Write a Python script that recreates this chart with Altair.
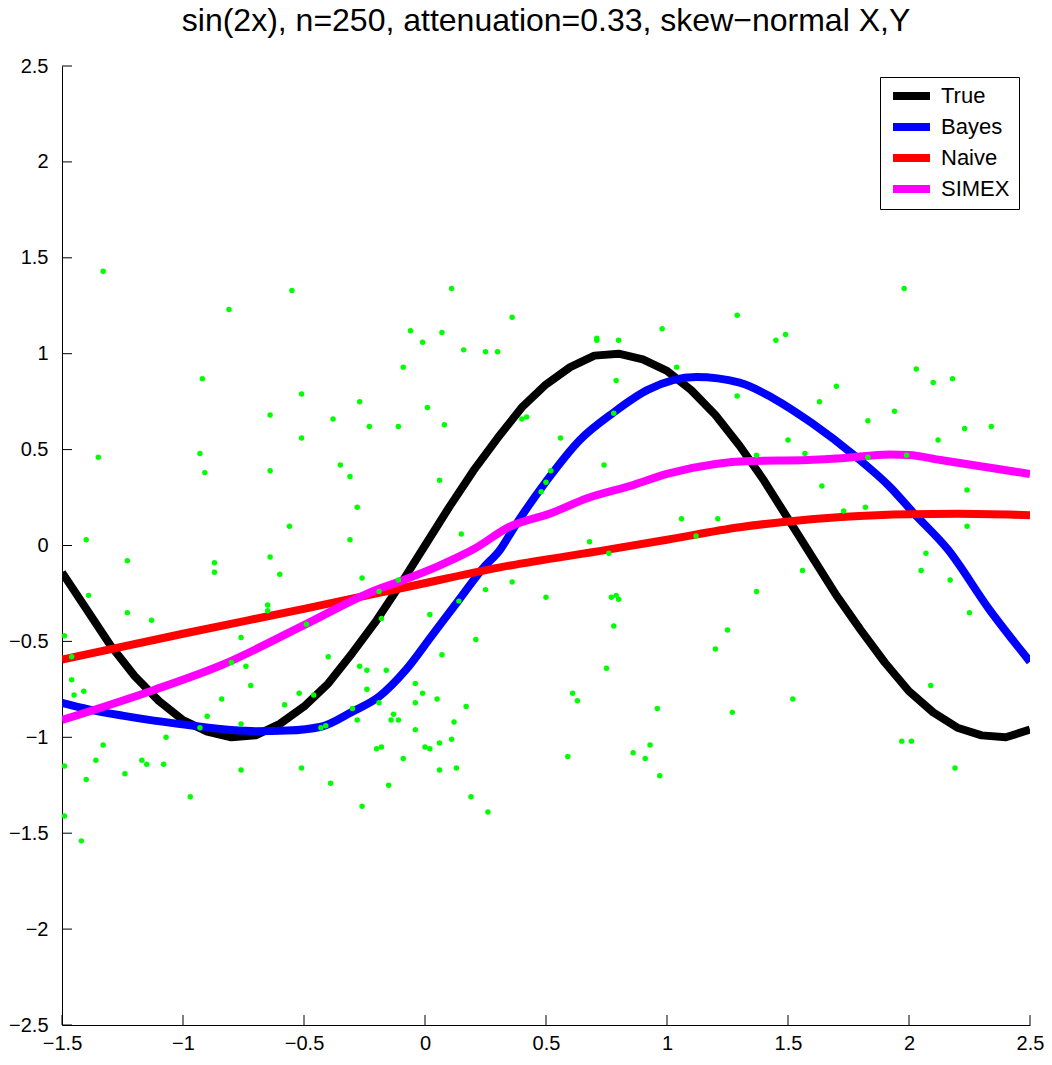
import altair as alt
import pandas as pd

TITLE = "sin(2x), n=250, attenuation=0.33, skew\u2212normal X,Y"
SERIES = ["True", "Bayes", "Naive", "SIMEX"]
COLORS = ["#000000", "#0000ff", "#ff0000", "#ff00ff"]

TRUE_X = [-1.5, -1.4, -1.3, -1.2, -1.1, -1.0, -0.9, -0.8, -0.7, -0.6, -0.5, -0.4, -0.3, -0.2, -0.1,
          0.0, 0.1, 0.2, 0.3, 0.4, 0.5, 0.6, 0.7, 0.8, 0.9, 1.0, 1.1, 1.2, 1.3, 1.4, 1.5,
          1.6, 1.7, 1.8, 1.9, 2.0, 2.1, 2.2, 2.3, 2.4, 2.5]
TRUE_Y = [-0.14, -0.33, -0.52, -0.68, -0.81, -0.91, -0.97, -1.00, -0.99, -0.93, -0.84, -0.72, -0.56, -0.39, -0.20,
          0.00, 0.20, 0.39, 0.56, 0.72, 0.84, 0.93, 0.99, 1.00, 0.97, 0.91, 0.81, 0.68, 0.52, 0.34, 0.14,
          -0.06, -0.26, -0.44, -0.61, -0.76, -0.87, -0.95, -0.99, -1.00, -0.96]

BAYES_X = [-1.5, -1.39, -1.25, -1.12, -0.98, -0.8, -0.7, -0.57, -0.43, -0.3, -0.19, -0.08, 0.03, 0.14,
           0.24, 0.31, 0.37, 0.5, 0.64, 0.78, 0.92, 1.12, 1.3, 1.44, 1.6, 1.78, 1.92, 2.02, 2.16, 2.33, 2.5]
BAYES_Y = [-0.82, -0.854, -0.887, -0.913, -0.936, -0.962, -0.968, -0.965, -0.945, -0.866, -0.788, -0.65, -0.467,
           -0.284, -0.118, -0.023, 0.098, 0.333, 0.55, 0.694, 0.811, 0.878, 0.849, 0.767, 0.637, 0.463, 0.307,
           0.168, -0.02, -0.33, -0.606]

NAIVE_X = [-1.5, -1.0, -0.5, -0.08, 0.31, 0.75, 1.0, 1.3, 1.5, 1.72, 2.0, 2.2, 2.5]
NAIVE_Y = [-0.595, -0.46, -0.33, -0.218, -0.114, -0.023, 0.03, 0.095, 0.125, 0.148, 0.163, 0.165, 0.158]

SIMEX_X = [-1.5, -1.12, -0.84, -0.5, -0.22, -0.08, 0.05, 0.2, 0.35, 0.52, 0.67, 0.86, 1.0, 1.2, 1.34,
           1.58, 1.72, 1.92, 2.0, 2.13, 2.5]
SIMEX_Y = [-0.91, -0.753, -0.623, -0.415, -0.241, -0.176, -0.11, -0.02, 0.098, 0.168, 0.246, 0.315, 0.373,
           0.425, 0.44, 0.446, 0.455, 0.475, 0.472, 0.446, 0.373]

PTS_X = [-1.33, -0.55, -0.81, -0.09, -0.92, -0.51, -0.27, -0.64, -0.38, -0.23, -0.11, -0.51, -1.35, -0.93,
         -0.91, -0.64, -0.35, -0.31, -0.28, -0.56, -1.40, -0.31,
         -1.23, -0.87, -0.87, -0.64, -0.60, -0.26, -0.19, -0.11, -1.39, -1.23, -1.13, -0.65, -0.65, -1.49,
         -1.46, -0.76, -0.18, -0.49, -0.80, -0.74, -1.46, -1.45, -1.41, -0.72, -0.84, -0.40, -0.27, -0.24,
         -0.16, -0.24, -0.52, -0.46, -0.58, -0.90, -0.93, -0.76, -0.30, -0.19, -0.28, -0.13, -0.14, -0.11,
         -0.43, -0.41, -1.07, -1.33, -1.36, -1.17, -1.15, -1.08, -1.49, -1.24, -1.40, -0.76, -0.51, -0.20,
         -0.18, -0.09, -0.39, -0.15, -0.97, -0.26, -1.49, -1.42,
         0.11, 0.36, 1.29, -0.06, 0.07, -0.01, 0.16, 0.25, 0.30, 0.71, 0.71, 0.80, 0.98, 1.04, 0.79, 1.29,
         0.01, 0.08, 0.40, 0.42, 0.78, 0.56, 0.74, 0.52, 0.50, 0.48, 0.06, 1.06, 1.21, 0.15, 1.12, 0.68,
         0.76, 0.36, 0.25, 0.50, 0.77, 0.79, 0.80, 0.14, 0.02, 0.78, 1.25, 1.20, 0.21, 0.07, 0.75, -0.04,
         -0.01, -0.04, 0.05, 0.17, 0.61, 0.63, 0.96, 1.27, -0.04, 0.12, 0.11, 0.00, 0.02, 0.06, 0.59, 0.86,
         0.93, 0.91, 0.97, 0.06, 0.13, 0.19, 0.26,
         1.98, 1.45, 1.49, 2.03, 2.10, 2.18, 1.70, 1.63, 1.94, 1.83, 2.23, 2.34, 1.50, 2.12, 1.37, 1.57,
         1.83, 1.99, 1.64, 2.24, 1.73, 1.82, 2.24, 2.07,
         1.56, 2.05, 2.17, 1.37, 2.25, 2.09, 1.52, 1.97, 2.01, 2.19]
PTS_Y = [1.43, 1.33, 1.23, 0.93, 0.87, 0.79, 0.75, 0.68, 0.66, 0.62, 0.62, 0.56, 0.46, 0.48,
         0.38, 0.39, 0.42, 0.36, 0.20, 0.10, 0.03, 0.03,
         -0.08, -0.09, -0.14, -0.06, -0.15, -0.17, -0.24, -0.18, -0.26, -0.35, -0.39, -0.31, -0.34, -0.47,
         -0.58, -0.48, -0.38, -0.41, -0.61, -0.63, -0.70, -0.78, -0.76, -0.73, -0.80, -0.58, -0.63, -0.65,
         -0.65, -0.75, -0.77, -0.78, -0.83, -0.89, -0.95, -0.93, -0.85, -0.82, -0.91, -0.88, -0.91, -0.91,
         -0.95, -0.94, -1.00, -1.04, -1.12, -1.12, -1.14, -1.14, -1.15, -1.19, -1.22, -1.17, -1.16, -1.06,
         -1.05, -1.11, -1.24, -1.25, -1.31, -1.36, -1.41, -1.54,
         1.34, 1.19, 1.20, 1.12, 1.11, 1.06, 1.02, 1.01, 1.01, 1.08, 1.07, 1.07, 1.13, 0.93, 0.86, 0.78,
         0.72, 0.63, 0.66, 0.67, 0.69, 0.56, 0.42, 0.39, 0.33, 0.28, 0.34, 0.14, 0.14, 0.06, 0.05, 0.02,
         -0.04, -0.19, -0.23, -0.27, -0.27, -0.26, -0.28, -0.29, -0.36, -0.42, -0.44, -0.54, -0.49, -0.57,
         -0.64, -0.72, -0.77, -0.82, -0.80, -0.84, -0.77, -0.81, -0.85, -0.87, -0.96, -0.92, -1.01, -1.05,
         -1.06, -1.03, -1.10, -1.08, -1.04, -1.11, -1.20, -1.17, -1.16, -1.31, -1.39,
         1.34, 1.07, 1.10, 0.92, 0.85, 0.87, 0.83, 0.75, 0.70, 0.65, 0.61, 0.62, 0.55, 0.55, 0.47, 0.48,
         0.46, 0.47, 0.31, 0.29, 0.18, 0.20, 0.10, -0.04,
         -0.13, -0.13, -0.18, -0.24, -0.35, -0.73, -0.80, -1.02, -1.02, -1.16]

X_TICKS = [-1.5, -1.0, -0.5, 0.0, 0.5, 1.0, 1.5, 2.0, 2.5]
Y_TICKS = [-2.5, -2.0, -1.5, -1.0, -0.5, 0.0, 0.5, 1.0, 1.5, 2.0, 2.5]

W, H = 968, 959
FONT = "Liberation Sans"

xs = alt.Scale(domain=[-1.5, 2.5], nice=False, zero=False)
ys = alt.Scale(domain=[-2.5, 2.5], nice=False, zero=False)
cs = alt.Scale(domain=SERIES, range=COLORS)

XAX = alt.Axis(values=X_TICKS, format="~g", ticks=False, tickSize=0, grid=False,
               labelFlush=False, labelPadding=8, title=None)
YAX = alt.Axis(values=Y_TICKS, format="~g", ticks=False, tickSize=0, grid=False,
               labelFlush=False, labelPadding=14, title=None)

legend = alt.Legend(
    title=None, orient="none", legendX=818, legendY=11,
    symbolType="stroke", symbolSize=1369, symbolStrokeWidth=8,
    labelFont=FONT, labelFontSize=22, labelColor="black", labelOffset=7,
    strokeColor="black", fillColor="white", padding=9, rowPadding=9, clipHeight=20,
)


def line_layer(name, xv, yv, interp):
    df = pd.DataFrame({"x": xv, "y": yv, "series": name})
    return alt.Chart(df).mark_line(strokeWidth=8, interpolate=interp, strokeJoin="round", clip=True).encode(
        x=alt.X("x:Q", scale=xs, axis=XAX),
        y=alt.Y("y:Q", scale=ys, axis=YAX),
        color=alt.Color("series:N", scale=cs, legend=legend),
    )


xtick = alt.Chart(pd.DataFrame({"x": X_TICKS})).mark_rule(color="black", strokeWidth=1).encode(
    x=alt.X("x:Q", scale=xs, axis=XAX), y=alt.value(H), y2=alt.value(H - 10)
)
ytick = alt.Chart(pd.DataFrame({"y": Y_TICKS})).mark_rule(color="black", strokeWidth=1).encode(
    y=alt.Y("y:Q", scale=ys, axis=YAX), x=alt.value(0), x2=alt.value(10)
)

pts = alt.Chart(pd.DataFrame({"x": PTS_X, "y": PTS_Y})).mark_circle(size=30, color="#00ff00", opacity=1).encode(
    x=alt.X("x:Q", scale=xs, axis=XAX),
    y=alt.Y("y:Q", scale=ys, axis=YAX),
)

chart = alt.layer(
    xtick, ytick,
    line_layer("True", TRUE_X, TRUE_Y, "linear"),
    line_layer("Bayes", BAYES_X, BAYES_Y, "monotone"),
    line_layer("Naive", NAIVE_X, NAIVE_Y, "monotone"),
    line_layer("SIMEX", SIMEX_X, SIMEX_Y, "monotone"),
    pts,
).properties(
    width=W, height=H,
    title=alt.TitleParams(TITLE, fontSize=32, font=FONT, fontWeight="normal", anchor="middle", offset=18, color="black"),
    padding={"left": 62, "top": 66, "right": 22, "bottom": 40},
    autosize=alt.AutoSizeParams(type="none"),
).configure_view(stroke=None).configure_axis(
    domainColor="black", domainWidth=1, labelFont=FONT, labelFontSize=20, labelColor="black", labelOverlap=False
)

chart.save("out.html", embed_options={"renderer": "svg", "actions": False})
